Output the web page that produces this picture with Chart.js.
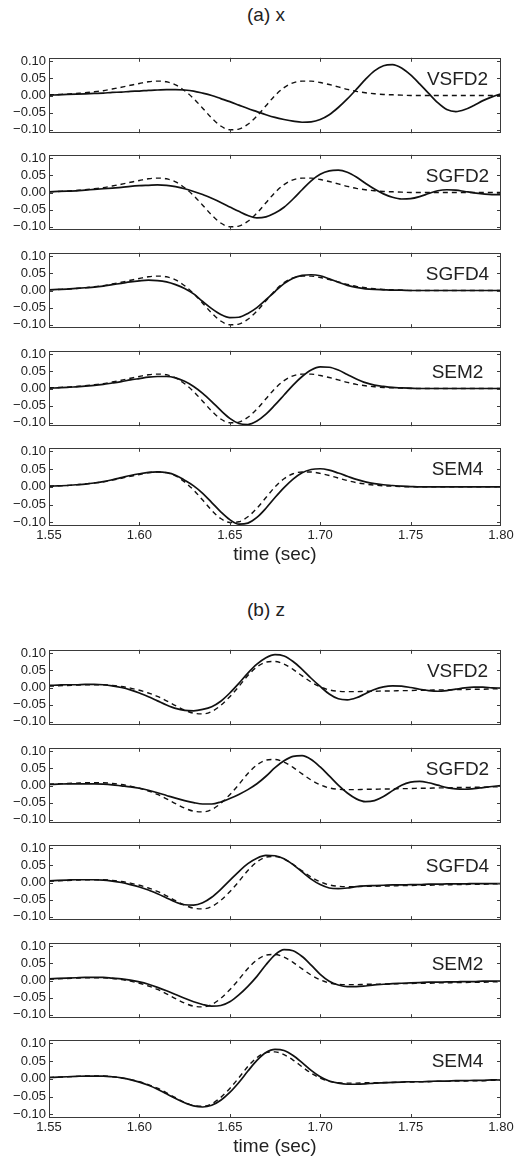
<!DOCTYPE html>
<html><head><meta charset="utf-8">
<script src="https://cdn.jsdelivr.net/npm/chart.js@4.4.1/dist/chart.umd.min.js"></script>
<style>
html,body{margin:0;padding:0;background:#fff;}
body{width:528px;height:1157px;position:relative;overflow:hidden;font-family:"Liberation Sans",Arial,Helvetica,sans-serif;color:#222;}
.hd{position:absolute;left:166px;width:200px;text-align:center;font-size:19px;line-height:22px;}
.pn{position:absolute;left:0;width:528px;}
</style></head><body>
<div class="hd" style="top:4px">(a) x</div>
<div class="hd" style="top:599px">(b) z</div>
<script>
// ---- data ----
const tSec = [1.550,1.555,1.560,1.565,1.570,1.575,1.580,1.585,1.590,1.595,1.600,
  1.605,1.610,1.615,1.620,1.625,1.630,1.635,1.640,1.645,1.650,
  1.655,1.660,1.665,1.670,1.675,1.680,1.685,1.690,1.695,1.700,
  1.705,1.710,1.715,1.720,1.725,1.730,1.735,1.740,1.745,1.750,
  1.755,1.760,1.765,1.770,1.775,1.780,1.785,1.790,1.795,1.800];
const xTicks = [1.55,1.60,1.65,1.70,1.75,1.80];
const yTicks = [-0.10,-0.05,0.00,0.05,0.10];
const methods = ['VSFD2','SGFD2','SGFD4','SEM2','SEM4'];

// (a) x component - reference (dashed)
const refX = [0.002,0.003,0.004,0.006,0.008,0.011,0.014,0.019,0.024,0.030,0.035,
  0.040,0.042,0.040,0.031,0.014,-0.009,-0.037,-0.066,-0.089,-0.100,
  -0.098,-0.084,-0.060,-0.030,0.000,0.023,0.037,0.042,0.042,0.038,
  0.032,0.025,0.018,0.012,0.008,0.005,0.003,0.002,0.001,0.000,
  0,0,0,0,0,0,0,0,0,0];
const vsfd2X = [0.001,0.002,0.003,0.004,0.005,0.006,0.007,0.009,0.010,0.012,0.013,
  0.015,0.016,0.017,0.017,0.016,0.013,0.007,0.000,-0.009,-0.018,
  -0.028,-0.038,-0.047,-0.056,-0.064,-0.070,-0.075,-0.078,-0.077,-0.070,
  -0.056,-0.035,-0.010,0.018,0.047,0.072,0.087,0.090,0.080,0.060,
  0.034,0.006,-0.021,-0.041,-0.047,-0.041,-0.029,-0.015,-0.004,0.005];
const sgfd2X = [0.002,0.003,0.004,0.005,0.007,0.009,0.011,0.013,0.015,0.018,0.020,
  0.021,0.022,0.021,0.017,0.011,0.003,-0.006,-0.017,-0.029,-0.042,
  -0.055,-0.067,-0.074,-0.071,-0.060,-0.043,-0.019,0.008,0.034,0.053,
  0.063,0.065,0.059,0.045,0.027,0.010,-0.004,-0.014,-0.019,-0.018,
  -0.012,-0.003,0.005,0.008,0.007,0.003,-0.001,-0.004,-0.006,-0.006];
const sgfd4X = [0.002,0.003,0.004,0.006,0.008,0.010,0.013,0.017,0.021,0.025,0.028,
  0.030,0.029,0.025,0.017,0.006,-0.010,-0.032,-0.053,-0.070,-0.079,
  -0.078,-0.067,-0.050,-0.027,-0.003,0.020,0.036,0.044,0.046,0.043,
  0.034,0.024,0.015,0.009,0.005,0.003,0.002,0.001,0.001,0.000,
  0,0,0,0,0,0,0,0,0,0];
const sem2X = [0.001,0.002,0.003,0.005,0.007,0.009,0.012,0.016,0.020,0.025,0.029,
  0.033,0.035,0.035,0.031,0.021,0.006,-0.014,-0.038,-0.064,-0.087,
  -0.102,-0.105,-0.095,-0.075,-0.048,-0.019,0.010,0.035,0.054,0.063,
  0.062,0.054,0.041,0.028,0.017,0.010,0.006,0.003,0.002,0.001,
  0,0,0,0,0,0,0,0,0,0];
const sem4X = [0.002,0.003,0.004,0.006,0.008,0.011,0.015,0.020,0.026,0.032,0.037,
  0.041,0.042,0.040,0.033,0.019,0.003,-0.018,-0.044,-0.070,-0.092,
  -0.105,-0.102,-0.086,-0.060,-0.030,-0.002,0.022,0.040,0.049,0.051,
  0.047,0.039,0.030,0.021,0.014,0.009,0.006,0.004,0.002,0.001,
  0,0,0,0,0,0,0,0,0,0];

// (b) z component - reference (dashed)
const refZ = [0.004,0.005,0.006,0.007,0.008,0.008,0.008,0.006,0.003,-0.002,-0.008,
  -0.016,-0.026,-0.039,-0.053,-0.066,-0.075,-0.077,-0.070,-0.052,-0.027,
  0.003,0.035,0.060,0.074,0.076,0.068,0.053,0.034,0.016,0.002,
  -0.007,-0.011,-0.012,-0.012,-0.011,-0.011,-0.010,-0.010,-0.009,-0.009,
  -0.008,-0.008,-0.007,-0.007,-0.006,-0.006,-0.005,-0.005,-0.004,-0.004];
const vsfd2Z = [0.006,0.007,0.008,0.008,0.009,0.009,0.008,0.005,0.000,-0.007,-0.016,
  -0.027,-0.039,-0.051,-0.061,-0.067,-0.068,-0.064,-0.056,-0.040,-0.016,
  0.012,0.042,0.068,0.087,0.096,0.092,0.076,0.053,0.027,0.003,
  -0.019,-0.033,-0.036,-0.030,-0.018,-0.006,0.002,0.005,0.004,0.000,
  -0.005,-0.009,-0.011,-0.009,-0.005,-0.001,0.001,0.001,-0.001,-0.002];
const sgfd2Z = [0.003,0.004,0.005,0.005,0.005,0.005,0.004,0.002,-0.001,-0.004,-0.008,
  -0.014,-0.021,-0.029,-0.037,-0.044,-0.050,-0.054,-0.054,-0.048,-0.038,
  -0.026,-0.012,0.005,0.027,0.052,0.072,0.085,0.087,0.076,0.054,
  0.028,0.001,-0.022,-0.039,-0.047,-0.044,-0.032,-0.015,0.001,0.010,
  0.012,0.008,0.001,-0.006,-0.010,-0.011,-0.009,-0.006,-0.003,0.000];
const sgfd4Z = [0.005,0.006,0.007,0.008,0.008,0.008,0.007,0.004,0.000,-0.006,-0.013,
  -0.022,-0.033,-0.045,-0.057,-0.065,-0.066,-0.059,-0.043,-0.020,0.006,
  0.032,0.055,0.071,0.079,0.078,0.069,0.052,0.031,0.010,-0.006,
  -0.016,-0.018,-0.016,-0.012,-0.010,-0.009,-0.008,-0.007,-0.007,-0.006,
  -0.006,-0.005,-0.005,-0.004,-0.004,-0.004,-0.003,-0.003,-0.003,-0.003];
const sem2Z = [0.005,0.006,0.007,0.008,0.009,0.009,0.009,0.007,0.005,0.001,-0.004,
  -0.011,-0.020,-0.030,-0.041,-0.052,-0.062,-0.070,-0.075,-0.073,-0.062,
  -0.042,-0.017,0.012,0.046,0.075,0.090,0.087,0.070,0.045,0.018,
  -0.002,-0.013,-0.018,-0.018,-0.016,-0.013,-0.011,-0.009,-0.008,-0.007,
  -0.006,-0.005,-0.005,-0.004,-0.004,-0.003,-0.003,-0.002,-0.002,-0.002];
const sem4Z = [0.004,0.005,0.006,0.007,0.008,0.008,0.008,0.006,0.003,-0.002,-0.009,
  -0.018,-0.029,-0.042,-0.055,-0.067,-0.076,-0.079,-0.074,-0.060,-0.038,
  -0.010,0.022,0.052,0.074,0.083,0.080,0.066,0.046,0.024,0.006,
  -0.006,-0.012,-0.015,-0.015,-0.014,-0.012,-0.011,-0.010,-0.009,-0.008,
  -0.008,-0.007,-0.006,-0.006,-0.005,-0.005,-0.004,-0.004,-0.003,-0.003];

const solidX = [vsfd2X, sgfd2X, sgfd4X, sem2X, sem4X];
const solidZ = [vsfd2Z, sgfd2Z, sgfd4Z, sem2Z, sem4Z];

// ---- layout ----
const FONT = '"Liberation Sans", Arial, Helvetica, sans-serif';
const plotTops = [55,152,250,348,445, 647,745,842,940,1037];
const PLOT_H = 81, PAD = 8, XAXIS_H = 40;

const framePlugin = {
  id: 'frame',
  afterDatasetsDraw(chart, args, opts) {
    const {ctx, chartArea: a, scales: {x, y}} = chart;
    ctx.save();
    ctx.strokeStyle = '#3a3a3a';
    ctx.lineWidth = 1;
    ctx.strokeRect(Math.round(a.left) + 0.5, Math.round(a.top) + 0.5,
                   Math.round(a.width) - 1, Math.round(a.height) - 1);
    ctx.beginPath();
    const tl = 4;
    yTicks.forEach(v => {
      const py = Math.round(y.getPixelForValue(v)) + 0.5;
      ctx.moveTo(a.left, py); ctx.lineTo(a.left + tl, py);
      ctx.moveTo(a.right, py); ctx.lineTo(a.right - tl, py);
    });
    xTicks.slice(1, -1).forEach(v => {
      const px = Math.round(x.getPixelForValue(v)) + 0.5;
      ctx.moveTo(px, a.top); ctx.lineTo(px, a.top + tl);
      ctx.moveTo(px, a.bottom); ctx.lineTo(px, a.bottom - tl);
    });
    ctx.stroke();
    ctx.fillStyle = '#222';
    ctx.font = '19px ' + FONT;
    ctx.textAlign = 'center';
    ctx.textBaseline = 'middle';
    ctx.fillText(opts.label, a.right - 43.5, y.getPixelForValue(0.047));
    ctx.restore();
  }
};

function makePanel(idx, label, solid, ref) {
  const isBottom = (idx === 4 || idx === 9);
  const h = PAD + PLOT_H + (isBottom ? XAXIS_H : PAD);
  const div = document.createElement('div');
  div.className = 'pn';
  div.style.top = (plotTops[idx] - PAD) + 'px';
  div.style.height = h + 'px';
  const cv = document.createElement('canvas');
  cv.width = 528; cv.height = h;
  cv.style.width = '528px'; cv.style.height = h + 'px';
  div.appendChild(cv);
  document.body.appendChild(div);
  new Chart(cv.getContext('2d'), {
    type: 'line',
    data: {
      datasets: [
        { data: tSec.map((t, i) => ({x: t, y: ref[i]})), borderColor: '#111', borderWidth: 1.4,
          borderDash: [5, 4], pointRadius: 0, cubicInterpolationMode: 'monotone', fill: false },
        { data: tSec.map((t, i) => ({x: t, y: solid[i]})), borderColor: '#111', borderWidth: 1.7,
          pointRadius: 0, cubicInterpolationMode: 'monotone', fill: false }
      ]
    },
    options: {
      responsive: false,
      animation: false,
      devicePixelRatio: 1,
      layout: { padding: { top: PAD, right: 27, bottom: isBottom ? 0 : PAD, left: 0 } },
      plugins: { legend: { display: false }, tooltip: { enabled: false }, frame: { label: label } },
      scales: {
        x: {
          type: 'linear', min: 1.55, max: 1.80,
          afterBuildTicks: s => { s.ticks = xTicks.map(v => ({value: v})); },
          afterFit: s => { s.height = isBottom ? XAXIS_H : 0; },
          grid: { display: false, drawTicks: false },
          border: { display: false },
          ticks: { display: isBottom, padding: 2, color: '#222', maxRotation: 0,
                   font: { family: FONT, size: 13 }, callback: v => v.toFixed(2) },
          title: { display: isBottom, text: 'time (sec)', color: '#222', padding: 0,
                   font: { family: FONT, size: 19 } }
        },
        y: {
          min: -0.11, max: 0.11,
          afterBuildTicks: s => { s.ticks = yTicks.map(v => ({value: v})); },
          afterFit: s => { s.width = 49; },
          grid: { display: false, drawTicks: false },
          border: { display: false },
          ticks: { padding: 3, color: '#222', font: { family: FONT, size: 13 },
                   callback: v => (v < 0 ? '\u2212' : '') + Math.abs(v).toFixed(2) }
        }
      }
    },
    plugins: [framePlugin]
  });
}

methods.forEach((m, i) => makePanel(i, m, solidX[i], refX));
methods.forEach((m, i) => makePanel(i + 5, m, solidZ[i], refZ));
</script>
</body></html>
